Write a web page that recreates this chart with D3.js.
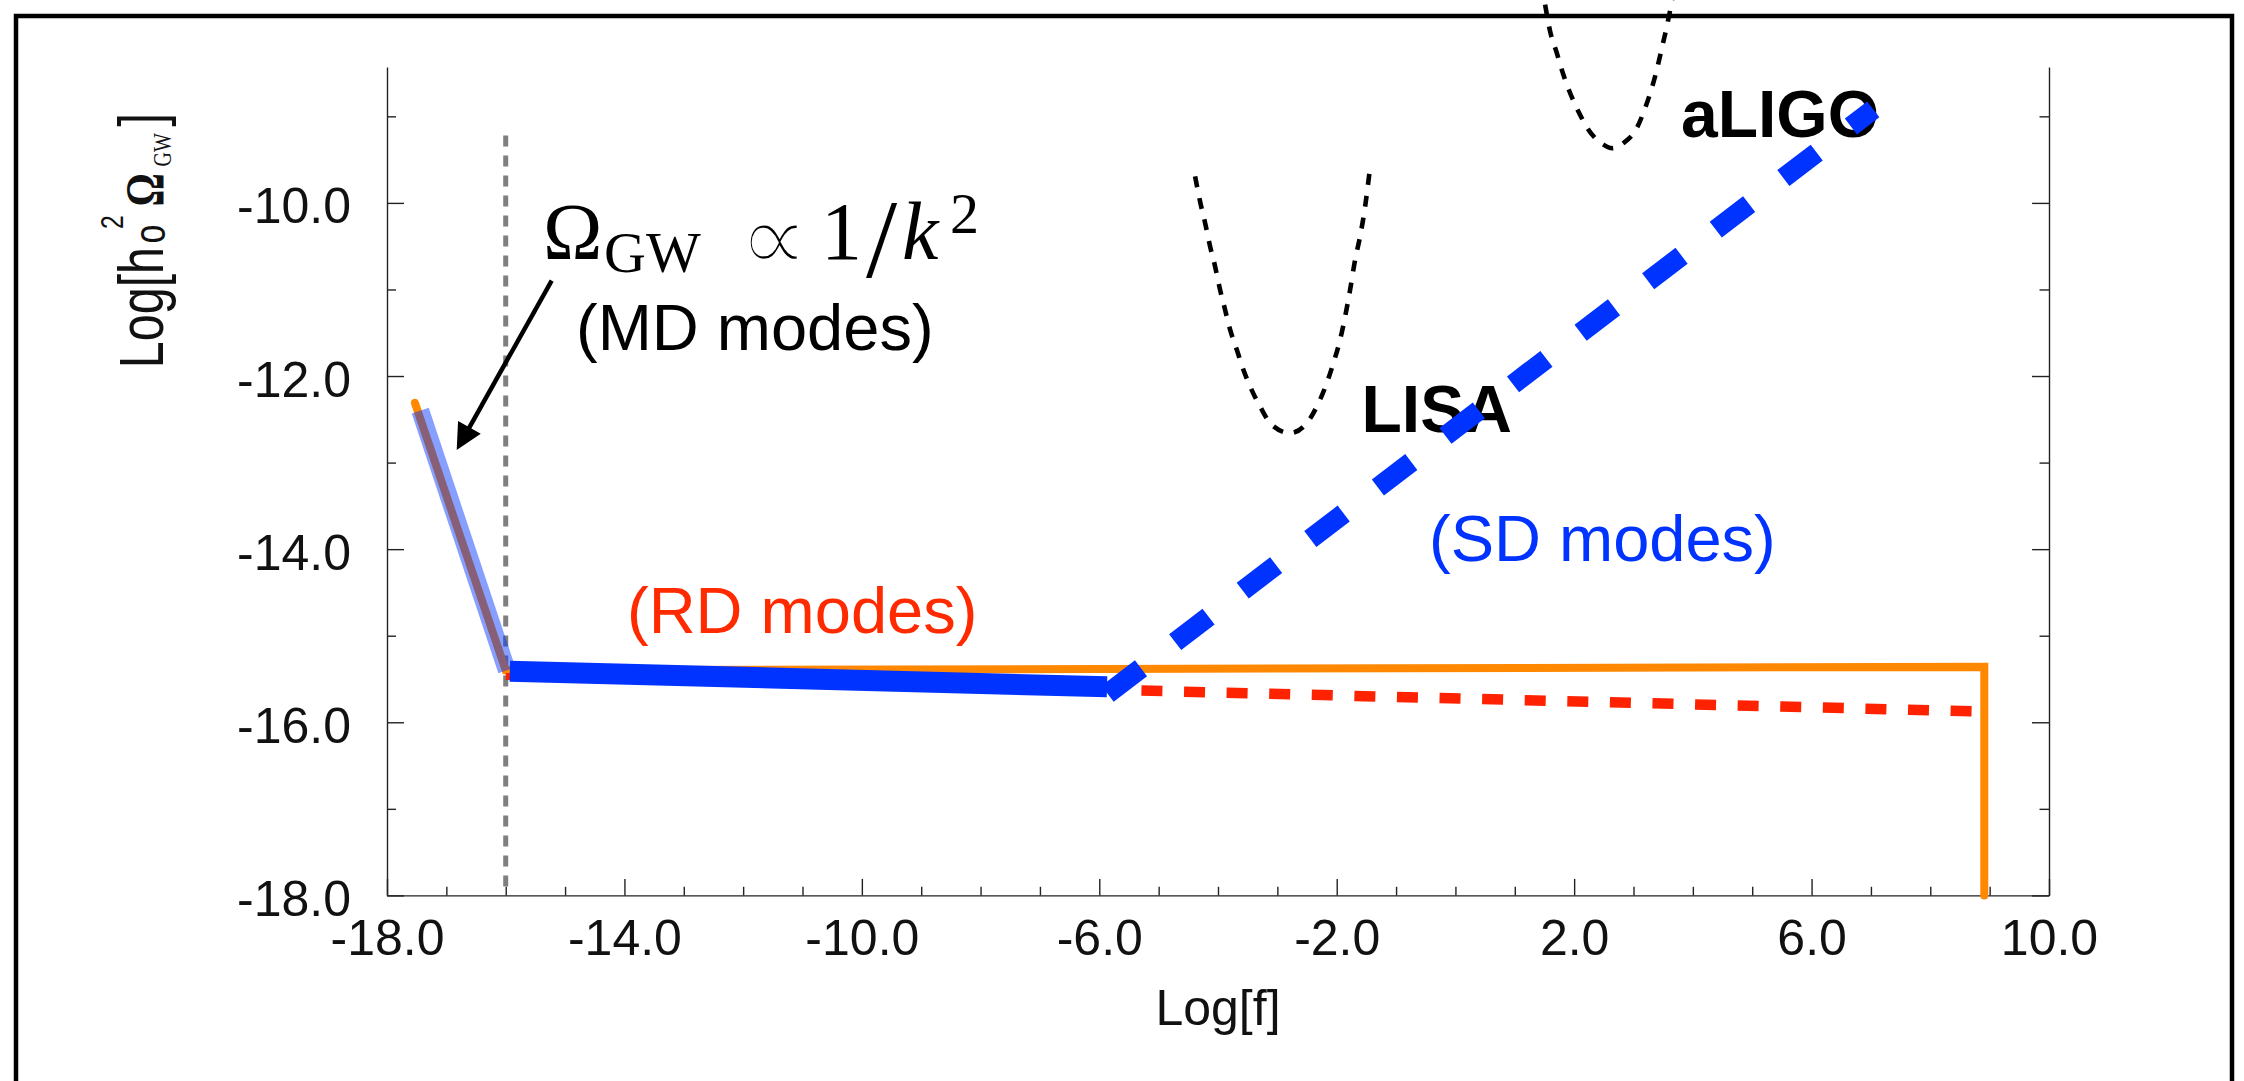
<!DOCTYPE html>
<html>
<head>
<meta charset="utf-8">
<script src="https://cdn.jsdelivr.net/npm/d3@7"></script>
<style>
  body { margin: 0; background: #fff; }
  svg { display: block; }
</style>
</head>
<body>
<div id="chart"></div>
<script>
(function () {

  // ---- data (log10 units) ----
  const xMajorTicks = [-18, -14, -10, -6, -2, 2, 6, 10];
  const xMinorTicks = [-17, -16, -15, -13, -12, -11, -9, -8, -7, -5, -4, -3, -1, 0, 1, 3, 4, 5, 7, 8, 9];
  const yMajorTicks = [-18, -16, -14, -12, -10];
  const yMinorTicks = [-17, -15, -13, -11, -9];

  // orange: full spectrum, MD slope, plateau, cut-off
  const orangeSpectrum = [[-17.53, -12.31], [-16.0, -15.40], [8.91, -15.36], [8.91, -18.0]];
  // red: RD modes (solid part hidden under blue, dotted continuation)
  const redUnder = [[-16.0, -15.47], [-5.87, -15.60]];
  const redDotted = [[-5.29, -15.634], [8.74, -15.874]];
  // translucent blue band on the MD slope
  const mdBand = [[-17.44, -12.40], [-15.98, -15.40]];
  // thick blue plateau and blue dashed SD rise
  const bluePlateau = [[-15.93, -15.41], [-5.87, -15.59]];
  const blueSD = [[-5.86, -15.67], [7.04, -8.92]];
  // matter/radiation equality marker
  const mdLineLogF = -16;
  const mdLineTop = -9.22;

  // sensitivity curves
  const lisaCurve = [
    [-4.386, -9.694], [-4.302, -9.983], [-4.218, -10.229], [-4.133, -10.503],
    [-4.049, -10.734], [-3.965, -11.003], [-3.881, -11.234], [-3.796, -11.465],
    [-3.683, -11.697], [-3.572, -11.928], [-3.459, -12.121], [-3.291, -12.352],
    [-3.094, -12.564], [-2.785, -12.659], [-2.504, -12.544], [-2.308, -12.313],
    [-2.167, -12.081], [-2.056, -11.850], [-1.943, -11.580], [-1.858, -11.312],
    [-1.774, -11.003], [-1.690, -10.656], [-1.606, -10.387], [-1.521, -10.040],
    [-1.449, -9.654]
  ];
  const aligoCurve = [
    [1.511, -7.709], [1.595, -8.018], [1.708, -8.268], [1.819, -8.519],
    [1.932, -8.730], [2.072, -8.943], [2.241, -9.154], [2.493, -9.327],
    [2.640, -9.368], [2.831, -9.308], [3.057, -9.134], [3.196, -8.903],
    [3.309, -8.672], [3.393, -8.461], [3.478, -8.210], [3.562, -7.960],
    [3.646, -7.671], [3.670, -7.58]
  ];

  // ---- chart settings ----
  const svg_width = 2244;
  const svg_height = 1081;
  const plot = { left: 387, right: 2049, top: 67, bottom: 895.4 };
  const sans = '"Liberation Sans", Arial, Helvetica, sans-serif';
  const serif = '"Liberation Serif", "Times New Roman", serif';
  const blue = "#0033ff", orange = "#ff8800", red = "#ff2200";

  const x = d3.scaleLinear().domain([-18, 10]).range([plot.left, plot.right]);
  const y = d3.scaleLinear().domain([-18, -8.43]).range([plot.bottom, plot.top]);
  const line = d3.line().x(d => x(d[0])).y(d => y(d[1]));
  const smooth = d3.line().x(d => x(d[0])).y(d => y(d[1])).curve(d3.curveMonotoneX);

  const svg = d3.select("#chart").append("svg")
    .attr("width", svg_width)
    .attr("height", svg_height);

  // outer frame
  svg.append("rect")
    .attr("x", 16).attr("y", 16)
    .attr("width", 2216).attr("height", 1200)
    .attr("fill", "none")
    .attr("stroke", "#000")
    .attr("stroke-width", 4.5);

  // ---- axes ----
  function styleAxis(g) {
    g.attr("color", "#222");
    g.selectAll("path, line").attr("stroke-width", 1.4);
    g.selectAll("text")
      .attr("font-family", sans)
      .attr("font-size", 50)
      .attr("fill", "#111");
  }
  const fmt = d => d.toFixed(1);

  svg.append("g")
    .attr("transform", "translate(0," + plot.bottom + ")")
    .call(d3.axisBottom(x).tickValues(xMajorTicks).tickFormat(fmt)
      .tickSizeInner(-16.5).tickSizeOuter(0).tickPadding(24))
    .call(styleAxis);
  svg.append("g")
    .attr("transform", "translate(0," + plot.bottom + ")")
    .call(d3.axisBottom(x).tickValues(xMinorTicks).tickFormat("")
      .tickSizeInner(-8.6).tickSizeOuter(0))
    .call(styleAxis)
    .select(".domain").remove();

  svg.append("g")
    .attr("transform", "translate(" + plot.left + ",0)")
    .call(d3.axisLeft(y).tickValues(yMajorTicks).tickFormat(fmt)
      .tickSizeInner(-17).tickSizeOuter(0).tickPadding(36))
    .call(styleAxis)
    .selectAll("text").attr("dy", "0.4em");
  svg.append("g")
    .attr("transform", "translate(" + plot.left + ",0)")
    .call(d3.axisLeft(y).tickValues(yMinorTicks).tickFormat("")
      .tickSizeInner(-9).tickSizeOuter(0))
    .call(styleAxis)
    .select(".domain").remove();

  svg.append("g")
    .attr("transform", "translate(" + plot.right + ",0)")
    .call(d3.axisRight(y).tickValues(yMajorTicks).tickFormat("")
      .tickSizeInner(-17).tickSizeOuter(0))
    .call(styleAxis);
  svg.append("g")
    .attr("transform", "translate(" + plot.right + ",0)")
    .call(d3.axisRight(y).tickValues(yMinorTicks).tickFormat("")
      .tickSizeInner(-9.5).tickSizeOuter(0))
    .call(styleAxis)
    .select(".domain").remove();

  // x label
  svg.append("text")
    .attr("x", (plot.left + plot.right) / 2)
    .attr("y", 1024.5)
    .attr("text-anchor", "middle")
    .attr("font-family", sans)
    .attr("font-size", 50)
    .attr("fill", "#111")
    .text("Log[f]");

  // y label, rotated and a bit condensed
  const ylab = svg.append("g")
    .attr("transform", "translate(163.3,368.3) rotate(-90) scale(0.77,1)")
    .attr("fill", "#111");
  const ylabParts = [
    { t: "Log[h", x: 0, y: 0, size: 63, font: sans, weight: "normal" },
    { t: "o", x: 162, y: 2, size: 44, font: sans, weight: "normal" },
    { t: "2", x: 181, y: -40, size: 32, font: sans, weight: "normal" },
    { t: "Ω", x: 210, y: 0, size: 54, font: serif, weight: "bold" },
    { t: "GW", x: 262, y: 8, size: 26, font: serif, weight: "normal" },
    { t: "]", x: 314, y: 0, size: 63, font: sans, weight: "normal" }
  ];
  ylab.selectAll("text").data(ylabParts).enter().append("text")
    .attr("x", d => d.x).attr("y", d => d.y)
    .attr("font-family", d => d.font)
    .attr("font-size", d => d.size)
    .attr("font-weight", d => d.weight)
    .text(d => d.t);

  // ---- curves ----
  // gray dashed vertical at MD/RD transition
  svg.append("line")
    .attr("x1", x(mdLineLogF)).attr("x2", x(mdLineLogF))
    .attr("y1", y(mdLineTop)).attr("y2", y(-18))
    .attr("stroke", "#7f7f7f")
    .attr("stroke-width", 5)
    .attr("stroke-dasharray", "11,9");

  svg.append("path")
    .attr("d", line(orangeSpectrum))
    .attr("fill", "none")
    .attr("stroke", orange)
    .attr("stroke-width", 8)
    .attr("stroke-linecap", "round")
    .attr("stroke-linejoin", "miter");

  svg.append("path")
    .attr("d", line(redUnder))
    .attr("fill", "none")
    .attr("stroke", red)
    .attr("stroke-width", 7);

  svg.append("path")
    .attr("d", line(redDotted))
    .attr("fill", "none")
    .attr("stroke", red)
    .attr("stroke-width", 10.5)
    .attr("stroke-dasharray", "21,21.6");

  svg.append("path")
    .attr("d", line(mdBand))
    .attr("fill", "none")
    .attr("stroke", blue)
    .attr("stroke-opacity", 0.47)
    .attr("stroke-width", 18);

  svg.append("path")
    .attr("d", line(bluePlateau))
    .attr("fill", "none")
    .attr("stroke", blue)
    .attr("stroke-width", 21);

  // detector sensitivity curves
  [lisaCurve, aligoCurve].forEach(function (c) {
    svg.append("path")
      .attr("d", smooth(c))
      .attr("fill", "none")
      .attr("stroke", "#000")
      .attr("stroke-width", 4.6)
      .attr("stroke-dasharray", "11,11");
  });

  // ---- labels ----
  const labels = [
    { t: "aLIGO", x: 1681, y: 136.7, size: 66, weight: "bold", color: "#000" },
    { t: "LISA", x: 1361.5, y: 432, size: 66, weight: "bold", color: "#000" },
    { t: "(SD modes)", x: 1429, y: 561, size: 65, weight: "normal", color: blue },
    { t: "(RD modes)", x: 627, y: 632.5, size: 65, weight: "normal", color: "#ff2a00" },
    { t: "(MD modes)", x: 576, y: 350, size: 65, weight: "normal", color: "#000" }
  ];
  svg.selectAll(".label").data(labels).enter().append("text")
    .attr("class", "label")
    .attr("x", d => d.x).attr("y", d => d.y)
    .attr("font-family", sans)
    .attr("font-size", d => d.size)
    .attr("font-weight", d => d.weight)
    .attr("fill", d => d.color)
    .text(d => d.t);

  // Omega_GW ~ 1/k^2
  const mathParts = [
    { t: "Ω", x: 543, y: 259.3, size: 80, style: "normal", thin: 0, font: serif },
    { t: "GW", x: 604, y: 271.7, size: 58, style: "normal", thin: 0, font: serif },
    { t: "∝", x: 738, y: 272, size: 100, style: "normal", thin: 4, font: '"DejaVu Sans", sans-serif' },
    { t: "1", x: 821, y: 259.3, size: 82, style: "normal", thin: 0, font: serif },
    { t: "/", x: 866, y: 277, size: 112, style: "normal", thin: 0, font: serif },
    { t: "k", x: 902, y: 259.3, size: 82, style: "italic", thin: 0, font: serif },
    { t: "2", x: 950, y: 233.3, size: 58, style: "normal", thin: 0, font: serif }
  ];
  svg.selectAll(".math").data(mathParts).enter().append("text")
    .attr("class", "math")
    .attr("x", d => d.x).attr("y", d => d.y)
    .attr("font-family", d => d.font)
    .attr("font-size", d => d.size)
    .attr("font-style", d => d.style)
    .attr("fill", "#000")
    .attr("stroke", d => d.thin ? "#fff" : null)     // thin the heavy ∝ glyph
    .attr("stroke-width", d => d.thin || null)
    .text(d => d.t);

  // blue dashed SD line sits on top of the detector labels
  svg.append("path")
    .attr("d", line(blueSD))
    .attr("fill", "none")
    .attr("stroke", blue)
    .attr("stroke-width", 20)
    .attr("stroke-dasharray", "42,43");

  // arrow pointing at the MD slope
  const a0 = [551.7, 280.6], a1 = [456.7, 450];
  const headLen = 26, headHalf = 13;
  const dx = a1[0] - a0[0], dy = a1[1] - a0[1];
  const len = Math.sqrt(dx * dx + dy * dy);
  const ux = dx / len, uy = dy / len;
  const base = [a1[0] - ux * headLen, a1[1] - uy * headLen];
  svg.append("line")
    .attr("x1", a0[0]).attr("y1", a0[1])
    .attr("x2", base[0] + ux * 2).attr("y2", base[1] + uy * 2)
    .attr("stroke", "#000")
    .attr("stroke-width", 4.5);
  svg.append("path")
    .attr("d", "M" + a1[0] + "," + a1[1] +
      "L" + (base[0] - uy * headHalf) + "," + (base[1] + ux * headHalf) +
      "L" + (base[0] + uy * headHalf) + "," + (base[1] - ux * headHalf) + "Z")
    .attr("fill", "#000");

})();
</script>
</body>
</html>
